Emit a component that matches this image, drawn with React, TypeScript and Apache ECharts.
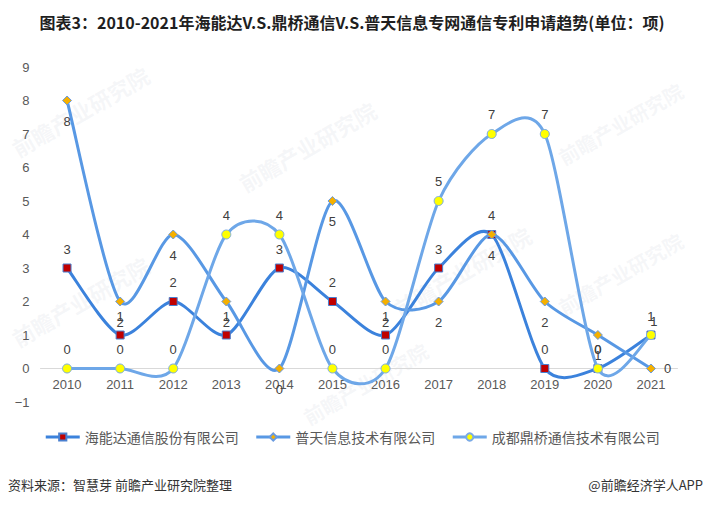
import React, { useEffect, useRef } from "react";
import * as echarts from "echarts";

const years = ["2010", "2011", "2012", "2013", "2014", "2015", "2016", "2017", "2018", "2019", "2020", "2021"];
const hainengda = [3, 1, 2, 1, 3, 2, 1, 3, 4, 0, 0, 1];
const putian = [8, 2, 4, 2, 0, 5, 2, 2, 4, 2, 1, 0];
const dingqiao = [0, 0, 0, 4, 4, 0, 0, 5, 7, 7, 0, 1];
const seriesNames = ["海能达通信股份有限公司", "普天信息技术有限公司", "成都鼎桥通信技术有限公司"];
const titleText = "图表3：2010-2021年海能达V.S.鼎桥通信V.S.普天信息专网通信专利申请趋势(单位：项)";
const sourceText = "资料来源：智慧芽 前瞻产业研究院整理";
const creditText = "@前瞻经济学人APP";
const watermarkText = "前瞻产业研究院";

const FONT = "'Liberation Sans', 'Noto Sans CJK SC', sans-serif";
const CJK = "'Noto Sans CJK SC', sans-serif";
const lineColors = ["#3b82dc", "#5898e4", "#6ea7e8"];
const TENSION = 0.135;

function curveSeries(name: string, values: number[], color: string, z: number) {
  return {
    name,
    type: "custom",
    coordinateSystem: "cartesian2d",
    data: [[0, values[0]]],
    encode: { x: 0, y: 1 },
    silent: true,
    z,
    renderItem: (_params: any, api: any) => {
      const pts = values.map((v, i) => api.coord([i, v]));
      let d = `M${pts[0][0]},${pts[0][1]}`;
      for (let i = 0; i < pts.length - 1; i++) {
        const p0 = pts[i - 1] || pts[i];
        const p1 = pts[i];
        const p2 = pts[i + 1];
        const p3 = pts[i + 2] || pts[i + 1];
        const c1x = p1[0] + (p2[0] - p0[0]) * TENSION;
        const c1y = p1[1] + (p2[1] - p0[1]) * TENSION;
        const c2x = p2[0] - (p3[0] - p1[0]) * TENSION;
        const c2y = p2[1] - (p3[1] - p1[1]) * TENSION;
        d += ` C${c1x},${c1y} ${c2x},${c2y} ${p2[0]},${p2[1]}`;
      }
      return {
        type: "path",
        shape: { pathData: d },
        style: { fill: "none", stroke: color, lineWidth: 3 },
        silent: true,
      };
    },
  };
}

export default function App() {
  const ref = useRef<HTMLDivElement>(null);
  useEffect(() => {
    if (!ref.current) return;
    const chart = echarts.init(ref.current, undefined, { renderer: "svg" });
    const labelBase = { show: true, fontSize: 13, color: "#404040", fontFamily: FONT };
    const wm = (x: number, y: number, s: number) => ({
      type: "text",
      x,
      y,
      rotation: Math.PI / 6,
      z: -10,
      silent: true,
      style: {
        text: watermarkText,
        fontSize: s,
        fontWeight: "bold",
        fill: "rgba(195,200,212,0.16)",
        fontFamily: CJK,
      },
    });
    chart.setOption({
      animation: false,
      backgroundColor: "#ffffff",
      textStyle: { fontFamily: FONT },
      title: {
        text: titleText,
        left: "center",
        top: 9,
        textStyle: { fontSize: 16, fontWeight: "bold", color: "#1f1f1f", fontFamily: CJK },
      },
      graphic: [
        wm(8, 140, 22),
        wm(235, 175, 22),
        wm(8, 330, 22),
        wm(390, 300, 22),
        wm(555, 150, 20),
        wm(555, 300, 20),
        wm(300, 410, 20),
        {
          type: "text",
          left: 8,
          top: 478,
          style: { text: sourceText, fontSize: 13, fill: "#333333", fontFamily: CJK },
        },
        {
          type: "text",
          right: 1,
          top: 478,
          style: { text: creditText, fontSize: 13, fill: "#333333", fontFamily: CJK },
        },
      ],
      legend: {
        top: 425,
        left: "center",
        itemWidth: 34,
        itemHeight: 9,
        itemGap: 16,
        textStyle: { fontSize: 14, color: "#595959", fontFamily: CJK },
        data: seriesNames.map((n, i) => ({
          name: n,
          lineStyle: { color: lineColors[i], width: 3, opacity: 1 },
        })),
      },
      grid: { left: 40.5, right: 26.5, top: 67, bottom: 105 },
      xAxis: {
        type: "category",
        data: years,
        boundaryGap: true,
        offset: -33.5,
        axisLine: { onZero: false, lineStyle: { color: "#d9d9d9", width: 1 } },
        axisTick: { show: false },
        axisLabel: { fontSize: 13, color: "#595959", margin: 9 },
      },
      yAxis: {
        type: "value",
        min: -1,
        max: 9,
        interval: 1,
        splitLine: { show: false },
        axisLine: { show: false },
        axisTick: { show: false },
        axisLabel: {
          fontSize: 13,
          color: "#595959",
          margin: 11,
          formatter: (v: number) => String(v).replace("-", "−"),
        },
      },
      series: [
        curveSeries("_c0", hainengda, lineColors[0], 1),
        {
          name: seriesNames[0],
          type: "line",
          data: hainengda,
          symbol: "rect",
          symbolSize: 8,
          lineStyle: { color: lineColors[0], width: 3, opacity: 0 },
          itemStyle: { color: "#c00000", borderColor: "#4a80d0", borderWidth: 1 },
          label: { ...labelBase, position: "top", distance: 8 },
          emphasis: { disabled: true },
          z: 2,
        },
        curveSeries("_c1", putian, lineColors[1], 3),
        {
          name: seriesNames[1],
          type: "line",
          data: putian.map((v, i) =>
            i === putian.length - 1 ? { value: v, label: { position: "right", distance: 8 } } : v
          ),
          symbol: "diamond",
          symbolSize: 9,
          lineStyle: { color: lineColors[1], width: 3, opacity: 0 },
          itemStyle: { color: "#f5b000", borderColor: "#6a9be0", borderWidth: 1 },
          label: { ...labelBase, position: "bottom", distance: 9 },
          emphasis: { disabled: true },
          z: 4,
        },
        curveSeries("_c2", dingqiao, lineColors[2], 5),
        {
          name: seriesNames[2],
          type: "line",
          data: dingqiao.map((v, i) =>
            i === dingqiao.length - 1 ? { value: v, label: { offset: [3, 6] } } : v
          ),
          symbol: "circle",
          symbolSize: 9,
          lineStyle: { color: lineColors[2], width: 3, opacity: 0 },
          itemStyle: { color: "#ffff00", borderColor: "#7aaae6", borderWidth: 1 },
          label: { ...labelBase, position: "top", distance: 8 },
          emphasis: { disabled: true },
          z: 6,
        },
      ],
    });
    return () => chart.dispose();
  }, []);
  return <div ref={ref} style={{ width: 704, height: 507, position: "absolute", left: 0, top: 0 }} />;
}
